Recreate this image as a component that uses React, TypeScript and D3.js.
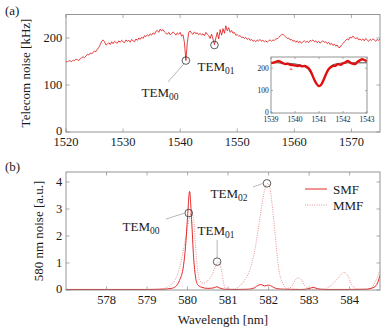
import * as d3 from "d3";

// (a) telecom noise, 1520–1575 nm every 0.25 nm
const telecomStart = 1520;
const telecomStep = 0.25;
const telecomNoise = [
  150, 149, 152, 151, 150, 153, 152, 155, 154, 152, 156, 158, 160, 158, 162, 165,
  164, 168, 166, 170, 172, 171, 176, 180, 186, 193, 196, 192, 185, 187, 190, 186,
  192, 188, 193, 190, 189, 194, 191, 195, 192, 190, 196, 193, 195, 191, 197, 194,
  192, 198, 195, 200, 197, 202, 199, 205, 203, 207, 204, 209, 206, 211, 208, 214,
  216, 212, 219, 215, 218, 213, 210, 208, 212, 207, 209, 213, 210, 206, 211, 208,
  212, 204, 207, 190, 152, 190, 212, 215, 210, 208, 213, 209, 211, 207, 210, 206,
  209, 205, 212, 208, 205, 199, 208, 198, 186, 200, 212, 198, 218, 206, 220, 210,
  226, 215, 222, 212, 216, 210, 212, 206, 207, 204, 205, 201, 202, 199, 201, 197,
  199, 195, 197, 193, 195, 192, 196, 194, 197, 193, 195, 192, 194, 191, 194, 196,
  193, 196, 195, 198, 198, 201, 204, 207, 208, 205, 202, 199, 200, 196, 197, 193,
  195, 191, 194, 190, 193, 189, 192, 194, 191, 193, 190, 195, 193, 196, 192, 194,
  190, 193, 189, 192, 194, 191, 192, 188, 191, 186, 189, 184, 187, 183, 185, 180,
  180, 185, 188, 192, 195, 198, 196, 202, 200, 204, 201, 198, 201, 196, 198, 195,
  198, 194, 199, 196, 193, 197, 195, 198, 196, 193, 197, 195, 197,
];

// inset: measured points and fit, 1539–1543 nm every 0.1 nm
const insetStart = 1539;
const insetStep = 0.1;
const insetMeasured = [
  223, 225, 228, 232, 228, 222, 218, 220, 215, 214, 212, 210, 212, 208, 210, 205,
  195, 175, 150, 130, 120, 128, 150, 175, 195, 205, 210, 212, 218, 215, 222, 226,
  232, 225, 220, 218, 228, 235, 240, 236, 232,
];
const insetFit = [
  224, 224, 224, 224, 223, 223, 222, 222, 221, 220, 219, 217, 215, 212, 207, 200,
  188, 170, 148, 128, 121, 130, 152, 178, 198, 210, 216, 219, 221, 222, 223, 223,
  224, 224, 224, 224, 224, 224, 224, 224, 224,
];
const insetOutlier = [1539.83, 192];

// (b) 580 nm noise
const smfWl = [
  577.0, 578.0, 579.0, 579.4, 579.6, 579.7, 579.8, 579.9, 579.95, 580.0, 580.05, 580.1,
  580.15, 580.2, 580.25, 580.35, 580.5, 580.65, 580.72, 580.8, 580.9, 581.2, 581.5,
  581.65, 581.75, 581.82, 581.9, 582.0, 582.1, 582.2, 582.4, 582.8, 583.0, 583.1,
  583.2, 583.4, 584.0, 584.4, 584.6, 584.7, 584.75,
];
const smfNoise = [
  0.02, 0.02, 0.02, 0.03, 0.06, 0.12, 0.35, 0.9, 1.6, 2.7, 3.65, 2.6,
  1.2, 0.45, 0.2, 0.1, 0.06, 0.08, 0.12, 0.07, 0.03, 0.02, 0.03,
  0.08, 0.18, 0.2, 0.15, 0.18, 0.12, 0.05, 0.03, 0.02, 0.05, 0.1,
  0.05, 0.02, 0.02, 0.03, 0.1, 0.3, 0.55,
];
const mmfWl = [
  577.0, 579.0, 579.3, 579.5, 579.6, 579.7, 579.8, 579.9, 580.0, 580.05, 580.1, 580.15,
  580.2, 580.25, 580.3, 580.4, 580.5, 580.6, 580.7, 580.76, 580.8, 580.85, 580.9, 580.95,
  581.1, 581.25, 581.4, 581.55, 581.65, 581.75, 581.85, 581.92, 581.98, 582.03, 582.1,
  582.18, 582.25, 582.35, 582.45, 582.55, 582.65, 582.72, 582.8, 582.9, 583.0, 583.2,
  583.4, 583.6, 583.75, 583.85, 583.95, 584.05, 584.2, 584.4, 584.55, 584.65, 584.75,
];
const mmfNoise = [
  0.01, 0.01, 0.03, 0.1, 0.2, 0.4, 0.8, 1.5, 2.3, 2.7, 2.85, 2.6,
  1.6, 0.7, 0.35, 0.25, 0.35, 0.55, 0.9, 1.05, 0.95, 0.6, 0.2, 0.03,
  0.02, 0.1, 0.35, 0.8, 1.4, 2.3, 3.3, 3.8, 3.95, 3.8, 3.0,
  1.8, 0.8, 0.25, 0.06, 0.1, 0.35, 0.45, 0.4, 0.15, 0.03, 0.02,
  0.05, 0.25, 0.5, 0.65, 0.55, 0.2, 0.03, 0.02, 0.1, 0.35, 0.75,
];

const telecomTicks = [1520, 1530, 1540, 1550, 1560, 1570];
const telecomYTicks = [0, 100, 200];
const insetTicks = [1539, 1540, 1541, 1542, 1543];
const insetYTicks = [0, 100, 200];
const visTicks = [578, 579, 580, 581, 582, 583, 584];
const visYTicks = [0, 1, 2, 3, 4];

const RED = "#e01010";
const RED_LIGHT = "#e06a6a";
const AXIS = "#888";
const INK = "#1a1a1a";
const FONT = '"Liberation Serif", "DejaVu Serif", serif';
const FS_TICK = 12.5;
const FS_LABEL = 13;

type Scale = d3.ScaleLinear<number, number>;

function Frame({ x, y, xticks, yticks, fs, tick }: {
  x: Scale; y: Scale; xticks: number[]; yticks: number[]; fs: number; tick: number;
}) {
  const [x0, x1] = x.range();
  const [y0, y1] = y.range();
  return (
    <g>
      <rect x={x0} y={y1} width={x1 - x0} height={y0 - y1} fill="none" stroke={AXIS} strokeWidth={0.9} />
      {xticks.map(t => (
        <g key={"x" + t}>
          <line x1={x(t)} x2={x(t)} y1={y0} y2={y0 - tick} stroke={AXIS} strokeWidth={0.7} />
          <line x1={x(t)} x2={x(t)} y1={y1} y2={y1 + tick} stroke={AXIS} strokeWidth={0.7} />
          <text x={x(t)} y={y0 + fs * 1.05 + 1} textAnchor="middle" fontSize={fs} fill={INK}>{t}</text>
        </g>
      ))}
      {yticks.map(t => (
        <g key={"y" + t}>
          <line x1={x0} x2={x0 + tick} y1={y(t)} y2={y(t)} stroke={AXIS} strokeWidth={0.7} />
          <line x1={x1} x2={x1 - tick} y1={y(t)} y2={y(t)} stroke={AXIS} strokeWidth={0.7} />
          <text x={x0 - fs * 0.3} y={y(t) - (t === 0 ? fs * 0.15 : 0)} dy="0.35em" textAnchor="end" fontSize={fs} fill={INK}>{t}</text>
        </g>
      ))}
    </g>
  );
}

function Tem({ x, y, sub }: { x: number; y: number; sub: string }) {
  return (
    <text x={x} y={y} textAnchor="middle" fontSize={FS_LABEL} fill={INK}>
      TEM<tspan dy={3} fontSize={9.5}>{sub}</tspan>
    </text>
  );
}

export default function App() {
  // (a)
  const xA = d3.scaleLinear().domain([1520, 1575]).range([66, 380]);
  const yA = d3.scaleLinear().domain([0, 250]).range([132, 14.5]);
  const xI = d3.scaleLinear().domain([1539, 1543]).range([271, 367]);
  const yI = d3.scaleLinear().domain([0, 250]).range([113, 57]);
  // (b)
  const xB = d3.scaleLinear().domain([577, 584.75]).range([66, 380]);
  const yB = d3.scaleLinear().domain([0, 4.37]).range([290, 172]);

  const telecomLine = d3.line<number>()
    .x((_, i) => xA(telecomStart + i * telecomStep))
    .y(d => yA(d));
  const insetLine = d3.line<number>()
    .x((_, i) => xI(insetStart + i * insetStep))
    .y(d => yI(d))
    .curve(d3.curveMonotoneX);
  const smfLine = d3.line<number>()
    .x((_, i) => xB(smfWl[i]))
    .y(d => yB(d))
    .curve(d3.curveMonotoneX);
  const mmfLine = d3.line<number>()
    .x((_, i) => xB(mmfWl[i]))
    .y(d => yB(d))
    .curve(d3.curveMonotoneX);

  return (
    <div style={{ position: "absolute", left: 0, top: 0 }}>
      <svg width={381} height={330} style={{ display: "block", fontFamily: FONT }}>
        <defs>
          <clipPath id="clipB"><rect x={66} y={172} width={314} height={118} /></clipPath>
        </defs>
        <rect width={381} height={330} fill="#fff" />

        {/* panel (a) */}
        <text x={5} y={15} fontSize={FS_LABEL} fill={INK}>(a)</text>
        <text transform={`translate(30,73) rotate(-90)`} textAnchor="middle" fontSize={FS_LABEL} fill={INK}>
          Telecom noise [kHz]
        </text>
        <Frame x={xA} y={yA} xticks={telecomTicks} yticks={telecomYTicks} fs={FS_TICK} tick={3.5} />
        <path d={telecomLine(telecomNoise) ?? ""} fill="none" stroke={RED} strokeWidth={0.8} />

        <circle cx={xA(1541)} cy={yA(152)} r={3.8} fill="none" stroke={INK} strokeWidth={0.7} />
        <line x1={xA(1541) - 2} x2={168} y1={yA(152) + 3.3} y2={82} stroke={AXIS} strokeWidth={0.6} />
        <Tem x={160} y={97} sub="00" />
        <circle cx={xA(1546)} cy={yA(185)} r={3.8} fill="none" stroke={INK} strokeWidth={0.7} />
        <Tem x={216} y={71} sub="01" />

        {/* inset */}
        <rect x={271} y={57} width={96} height={56} fill="#fff" />
        <path d={insetLine(insetFit) ?? ""} fill="none" stroke={INK} strokeWidth={0.8} />
        <path d={insetLine(insetMeasured) ?? ""} fill="none" stroke={RED} strokeWidth={2.4} />
        <text x={xI(insetOutlier[0])} y={yI(insetOutlier[1])} dy="0.35em" textAnchor="middle" fontSize={7} fill={RED}>*</text>
        <Frame x={xI} y={yI} xticks={insetTicks} yticks={insetYTicks} fs={7.5} tick={2} />

        {/* panel (b) */}
        <text x={5} y={171} fontSize={FS_LABEL} fill={INK}>(b)</text>
        <text transform={`translate(43,231) rotate(-90)`} textAnchor="middle" fontSize={FS_LABEL} fill={INK}>
          580 nm noise [a.u.]
        </text>
        <text x={223} y={323.5} textAnchor="middle" fontSize={FS_LABEL} fill={INK}>Wavelength [nm]</text>
        <g clipPath="url(#clipB)">
          <path d={mmfLine(mmfNoise) ?? ""} fill="none" stroke={RED_LIGHT} strokeWidth={0.8} strokeDasharray="0.9 1.4" />
          <path d={smfLine(smfNoise) ?? ""} fill="none" stroke={RED} strokeWidth={0.9} />
        </g>
        <Frame x={xB} y={yB} xticks={visTicks} yticks={visYTicks} fs={FS_TICK} tick={3.5} />

        <circle cx={xB(580.03)} cy={yB(2.85)} r={3.8} fill="none" stroke={INK} strokeWidth={0.7} />
        <line x1={166} x2={xB(580.03) - 3.8} y1={219} y2={yB(2.85)} stroke={AXIS} strokeWidth={0.6} />
        <Tem x={141} y={230.5} sub="00" />
        <circle cx={xB(580.73)} cy={yB(1.05)} r={3.8} fill="none" stroke={INK} strokeWidth={0.7} />
        <line x1={xB(580.73)} x2={xB(580.73)} y1={240} y2={yB(1.05) - 3.8} stroke={AXIS} strokeWidth={0.6} />
        <Tem x={216} y={235} sub="01" />
        <circle cx={xB(581.96)} cy={yB(3.95)} r={3.8} fill="none" stroke={INK} strokeWidth={0.7} />
        <line x1={253} x2={xB(581.96) - 3.8} y1={187} y2={yB(3.95)} stroke={AXIS} strokeWidth={0.6} />
        <Tem x={229} y={197.5} sub="02" />

        {/* legend */}
        <line x1={305} x2={327} y1={189} y2={189} stroke={RED} strokeWidth={0.9} />
        <text x={333} y={189} dy="0.35em" fontSize={FS_LABEL} fill={INK}>SMF</text>
        <line x1={305} x2={327} y1={205} y2={205} stroke={RED_LIGHT} strokeWidth={0.8} strokeDasharray="0.9 1.4" />
        <text x={333} y={205} dy="0.35em" fontSize={FS_LABEL} fill={INK}>MMF</text>
      </svg>
    </div>
  );
}
